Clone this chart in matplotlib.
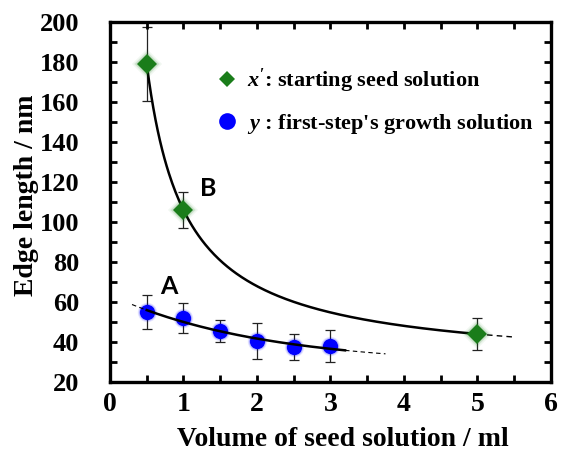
import numpy as np
import matplotlib
matplotlib.use("Agg")
import matplotlib.pyplot as plt
from matplotlib.lines import Line2D

plt.rcParams['mathtext.fontset'] = 'custom'
plt.rcParams['mathtext.it'] = 'Liberation Serif:bold:italic'
plt.rcParams['mathtext.rm'] = 'Liberation Serif:bold'

# Series B: starting seed solution (x')
vol_b = np.array([0.5, 1.0, 5.0])
edge_b = np.array([179.0, 106.0, 44.0])
err_b = np.array([18.5, 9.0, 8.0])

# Series A: first-step's growth solution (y)
vol_a = np.array([0.5, 1.0, 1.5, 2.0, 2.5, 3.0])
edge_a = np.array([55.0, 52.0, 45.5, 40.5, 37.5, 38.0])
err_a = np.array([8.5, 7.6, 5.5, 9.0, 6.5, 8.0])

x_ticks = [0, 1, 2, 3, 4, 5, 6]
y_ticks = [20, 40, 60, 80, 100, 120, 140, 160, 180, 200]

legend_labels = ["$x'$: starting seed solution",
                 "$y$ : first-step's growth solution"]


def fit_power_offset(x, y):
    # y = c + a * x**p, grid search on p with linear least squares for a, c
    best = None
    for p in np.linspace(-3, -0.1, 2901):
        A = np.column_stack([np.ones_like(x), x ** p])
        coef, *_ = np.linalg.lstsq(A, y, rcond=None)
        r = np.sum((A @ coef - y) ** 2)
        if best is None or r < best[0]:
            best = (r, p, coef)
    _, p, (c, a) = best
    return lambda t: c + a * t ** p


def fit_exp_offset(x, y):
    # y = c + a * exp(-x / tau)
    best = None
    for tau in np.linspace(0.2, 5, 2401):
        A = np.column_stack([np.ones_like(x), np.exp(-x / tau)])
        coef, *_ = np.linalg.lstsq(A, y, rcond=None)
        r = np.sum((A @ coef - y) ** 2)
        if best is None or r < best[0]:
            best = (r, tau, coef)
    _, tau, (c, a) = best
    return lambda t: c + a * np.exp(-t / tau)


fb = fit_power_offset(vol_b, edge_b)
fa = fit_exp_offset(vol_a, edge_a)

fig = plt.figure(figsize=(5.69, 4.51), dpi=100)
ax = fig.add_axes([0.1933, 0.153, 0.7747, 0.798])

# fitted curves
xs = np.linspace(0.5, 5.0, 300)
ax.plot(xs, fb(xs), color='black', lw=1.8, zorder=2)
xs = np.linspace(5.0, 5.48, 20)
ax.plot(xs, fb(xs), color='black', lw=1.0, ls=(0, (4, 3)), zorder=2)

xs = np.linspace(0.5, 3.2, 300)
ax.plot(xs, fa(xs), color='black', lw=1.8, zorder=4)
xs = np.linspace(0.3, 0.5, 20)
ax.plot(xs, fa(xs), color='black', lw=0.8, ls=(0, (4, 3)), zorder=4)
xs = np.linspace(3.2, 3.75, 20)
ax.plot(xs, fa(xs), color='black', lw=0.8, ls=(0, (4, 3)), zorder=4)

# error bars
ax.errorbar(vol_b, edge_b, yerr=err_b, fmt='none', ecolor='#222222',
            elinewidth=0.9, capsize=3.5, capthick=0.9, zorder=1)
ax.errorbar(vol_a, edge_a, yerr=err_a, fmt='none', ecolor='#222222',
            elinewidth=0.9, capsize=3.5, capthick=0.9, zorder=1)

# soft glow behind markers, built from a few faint layers
for ms, al in [(15, 0.06), (13.5, 0.08), (12, 0.12)]:
    ax.plot(vol_b, edge_b, 'D', ms=ms, color='#1a7d1a', alpha=al, mew=0, zorder=2.5)
for ms, al in [(14, 0.10), (12.5, 0.18)]:
    ax.plot(vol_a, edge_a, 'o', ms=ms, color='#0000ff', alpha=al, mew=0, zorder=2.5)

ax.plot(vol_b, edge_b, 'D', ms=10, color='#1a7d1a', mew=0, zorder=3)
ax.plot(vol_a, edge_a, 'o', ms=11, color='#0000ff', mew=0, zorder=3)

ax.set_xlim(0, 6)
ax.set_ylim(20, 200)
ax.set_xticks(x_ticks)
ax.set_xticks(np.arange(0.5, 6, 1.0), minor=True)
ax.set_yticks(y_ticks)
ax.set_yticks(np.arange(30, 200, 20), minor=True)

ax.set_xticklabels([str(v) for v in x_ticks],
                   fontdict=dict(family='Liberation Serif', weight='bold', size=20))
ax.set_yticklabels([str(v) for v in y_ticks],
                   fontdict=dict(family='Liberation Serif', weight='bold', size=19))

ax.tick_params(which='both', direction='in', top=True, right=True,
               length=5, width=2)
ax.tick_params(axis='x', which='both', pad=7)
ax.tick_params(axis='y', which='both', pad=22)
for s in ax.spines.values():
    s.set_linewidth(2.4)

ax.set_xlabel('Volume of seed solution / ml', family='Liberation Serif',
              weight='bold', size=20)
ax.xaxis.set_label_coords(0.528, -0.125)
ax.set_ylabel('Edge length / nm', family='Liberation Serif',
              weight='bold', size=20)
ax.yaxis.set_label_coords(-0.16, 0.52)

ax.text(0.8, 68, 'A', family='Lato', weight='bold', size=18,
        ha='center', va='center')
ax.text(1.33, 117, 'B', family='Lato', weight='bold', size=18,
        ha='center', va='center')

handles = [
    Line2D([], [], ls='none', marker='D', ms=8, color='#1a7d1a', mew=0),
    Line2D([], [], ls='none', marker='o', ms=12, color='#0000ff', mew=0),
]
ax.legend(handles, legend_labels, loc='upper left',
          bbox_to_anchor=(0.245, 0.875), frameon=False,
          prop=dict(family='Liberation Serif', weight='bold', size=16),
          handlelength=0.8, handletextpad=0.5, labelspacing=0.75,
          borderpad=0, borderaxespad=0)

fig.savefig('out.png', dpi=100)
